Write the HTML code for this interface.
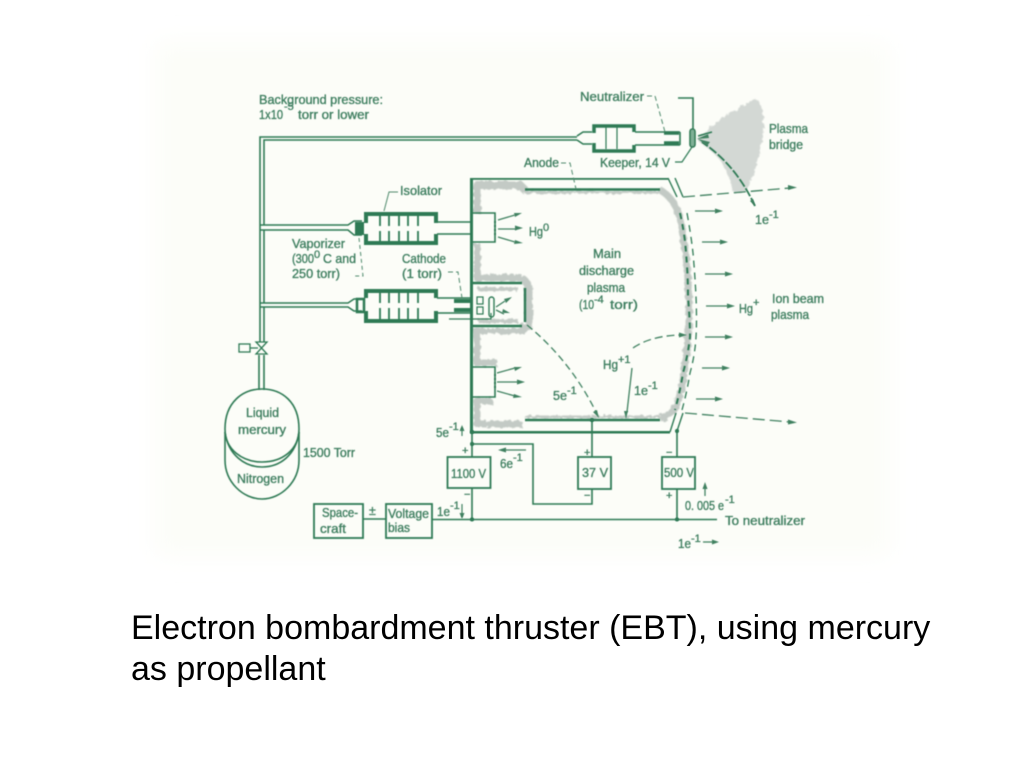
<!DOCTYPE html>
<html><head><meta charset="utf-8"><style>
html,body{margin:0;padding:0;background:#fff;width:1024px;height:768px;overflow:hidden}
svg{position:absolute;left:0;top:0}
.c{position:absolute;left:131px;font:34px/41px "Liberation Sans",sans-serif;color:#000;white-space:nowrap}
text{font-family:"Liberation Sans",sans-serif;font-size:12.5px;fill:#3f7f60;stroke:#3f7f60;stroke-width:.35}
.s{font-size:11px}
</style></head><body>
<svg width="1024" height="768" viewBox="0 0 1024 768">
<defs>
<filter id="b" x="-5%" y="-5%" width="110%" height="110%"><feGaussianBlur stdDeviation="0.4"/></filter>
<filter id="g" x="-10%" y="-10%" width="120%" height="120%">
<feTurbulence type="fractalNoise" baseFrequency="0.25" numOctaves="2" seed="4" result="n"/>
<feDisplacementMap in="SourceGraphic" in2="n" scale="5" result="d"/>
<feGaussianBlur in="d" stdDeviation="0.7"/>
</filter>
<filter id="bg" x="-10%" y="-10%" width="120%" height="120%"><feGaussianBlur stdDeviation="12"/></filter>
</defs>
<rect x="155" y="42" width="735" height="514" fill="#fcfdf8" filter="url(#bg)"/>
<!-- gray plasma -->
<g fill="none" stroke="#c3cac5" stroke-width="8" filter="url(#g)" stroke-linejoin="round">
<path d="M526 191L520 185H477V213"/>
<path d="M477 243V278H522" stroke-width="7"/>
<path d="M522 279Q529 282 529 295V322Q529 328 520 328" stroke-width="8"/>
<path d="M478 289H518M478 321H518" stroke-width="4"/>
<path d="M472 331H524" stroke-width="6"/>
<path d="M477 332V363H497" stroke-width="7"/>
<path d="M492 401H477V424H522" stroke-width="7"/>
<path d="M525 417H660M525 192H660" stroke-width="3"/>
<path d="M660 190Q674 198 679 215Q688 255 689 303Q689 360 678 403Q672 416 660 418" stroke-width="7"/>
</g>
<path d="M698 138C705 134 715 122 727 115C738 108 750 101 757 99C764 108 765 125 762 140C760 160 752 178 747 190Q740 195 733 192C730 178 725 168 720 160C714 153 708 148 698 141Z" fill="#d3d8d4" filter="url(#g)"/>
<g filter="url(#b)" fill="none" stroke="#2f7a55" stroke-width="1.6">
<!-- main feed tubes -->
<path d="M260 342V137H577"/>
<path d="M264 342V307M264 303V230M264 225V140H577M260 230H348L354 235H362M260 225H348L354 221H362M260 303H348L354 299H362M260 307H348L354 311H362"/>
<path d="M577 136L583 132H592M577 140L583 144H592"/>
<rect x="355" y="222" width="9" height="13" fill="#2f7a55" stroke="none"/>
<rect x="357" y="299" width="7" height="13" fill="none" stroke-width="2.5"/>
<!-- isolators -->
<path d="M366 223V214H436V223M366 234V243H436V234" stroke-width="4"/>
<path d="M366 298V291H436V298M366 311V321H436V311" stroke-width="4"/>
<path d="M380 216V226M389 216V226M399 216V226M408 216V226M418 216V226M380 231V242M389 231V242M399 231V242M408 231V242M418 231V242M380 293V303M389 293V303M399 293V303M408 293V303M418 293V303M380 308V319M389 308V319M399 308V319M408 308V319M418 308V319" stroke-width="1.8"/>
<path d="M437 222H471M437 234H471M437 298H471M437 313H471"/>
<!-- neutralizer -->
<path d="M594 133V126H634V132M594 143V151H634V145" stroke-width="3.5"/>
<path d="M606 127V149M617 127V149" stroke-width="1.2"/>
<path d="M635 132H680M635 145H680M680 132V145"/>
<path d="M664 133H679M664 143H679" stroke-width="3.500"/>
<rect x="690" y="129" width="5" height="18" rx="2.500" stroke-width="1.600" fill="#7fb096"/>
<path d="M678 98H693V129"/>
<path d="M675 162H682L692 147" stroke-width="1.200"/>
<!-- chamber -->
<rect x="470" y="178" width="3" height="255" fill="#2f7a55" stroke="none"/>
<rect x="470" y="431" width="200" height="2.500" fill="#2f7a55" stroke="none"/>
<rect x="470" y="178" width="198" height="1.800" fill="#2f7a55" stroke="none"/>
<path d="M525 189.500H660M525 420H660" stroke-width="2.400"/>
<path d="M668 178L677 197M675 178L683 197M670 432L676 413M677 431L683 413" stroke-width="1.400"/>
<path d="M473 213H495V242H473M473 367H495V397H473"/>
<path d="M472 283H522M472 326H522" stroke-width="2.600"/>
<path d="M525 288V322" stroke-width="2.400"/>
<path d="M495 221V236M495 374V390" stroke-width="2" stroke-dasharray="2 2"/>
<!-- grid -->
<path d="M680 213Q685 235 686 253Q688 275 688 297Q690 320 690 337Q688 355 683 373Q680 392 675 410" stroke-width="2" stroke-dasharray="6 5"/>
<path d="M687 213Q691 235 693 253Q695 275 696 297Q697 320 696 337Q695 355 690 373Q687 392 682 410" stroke-width="1.300" stroke-dasharray="7 5"/>
<!-- cathode -->
<path d="M454 301H472M454 310H472" stroke-width="4"/>
<rect x="477" y="297" width="6" height="7" stroke-width="1.200"/><rect x="477" y="307" width="6" height="7" stroke-width="1.200"/>
<rect x="489" y="297" width="5" height="20" rx="2.500" stroke-width="1.400"/>
<path d="M449 319H491V313" stroke-width="1.200"/>
<!-- leaders -->
<g stroke-width="1" stroke="#4f8a6d">
<path d="M384 211L389 192H398"/>
<path d="M359 238L363 276H353" stroke-dasharray="4 3"/>
<path d="M448 272H458L462 298" stroke-dasharray="5 3"/>
<path d="M647 96H655L665 132" stroke-dasharray="5 3"/>
<path d="M561 163H570L576 189" stroke-dasharray="5 3"/>
</g>
<!-- tank -->
<path d="M256 342H267L256 354H267Z" stroke-width="1.300"/>
<rect x="239" y="344" width="11" height="8" stroke-width="1.300"/><path d="M250 348H258" stroke-width="1.300"/>
<path d="M259 355V390M264 355V390"/>
<path d="M225 429C225 402 243 389 262 389C282 389 299 402 299 429C299 450 282 462 262 462C243 462 225 450 225 429Z"/>
<path d="M225 432C228 455 245 467 262 467C280 467 296 455 299 432"/>
<path d="M225 432V460C225 482 243 499 262 499C281 499 299 482 299 460V432"/>
<!-- circuit -->
<rect x="447.500" y="457" width="43" height="31" stroke-width="1.800"/>
<rect x="578" y="457" width="33" height="32" stroke-width="1.800"/>
<rect x="662" y="457" width="33" height="32" stroke-width="1.800"/>
<rect x="314" y="504" width="49" height="34" stroke-width="1.800"/>
<rect x="386" y="504" width="46" height="34" stroke-width="1.800"/>
<path d="M363 519H386M432 519.500H717M472 432V457M472 488V519M592 420V457M592 489V504H533V444H472M677 431V457M677 489V519"/>
</g>
<g filter="url(#b)" fill="#2f7a55" stroke="none">
<circle cx="472" cy="444" r="2"/><circle cx="472" cy="519.500" r="2"/><circle cx="677" cy="519.500" r="2"/><circle cx="677" cy="431" r="2"/><circle cx="592" cy="420" r="2"/><circle cx="472" cy="432" r="2"/>
</g>
<!-- arrows -->
<g filter="url(#b)" fill="none" stroke="#3f8160" stroke-width="1.300">
<path d="M695 211H716M702 242H721M705 274H726M706 306H728M705 337H726M702 368H723M696 399H716M498 229H516M497 382H518M497 373L515 368M497 391L515 396M498 220L515 215M498 237L515 242M496 307L505 301M496 310L504 314"/>
<path d="M683 197L790 188" stroke-dasharray="12 5"/>
<path d="M685 413L790 422" stroke-dasharray="12 5"/>
<path d="M633 348Q650 336 680 335" stroke-dasharray="8 4"/>
<path d="M632 368L627 412"/>
<path d="M527 325Q570 360 596 412" stroke-dasharray="7 4"/>
<path d="M755 206Q736 165 702 142" stroke="#2f7a55" stroke-width="1.800" stroke-dasharray="9 2"/>
<path d="M698 136L712 132" stroke="#2f7a55" stroke-width="1.500"/>
<path d="M526 450H505M703 542H713M705 496V487"/>
<path d="M462 428V436M462 504V517" stroke-width="1.200"/>
</g>
<g filter="url(#b)" fill="#3f8160" stroke="none">
<path d="M723 211l-8-2.500v5zM728 242l-8-2.500v5zM733 274l-8-2.500v5zM735 306l-8-2.500v5zM733 337l-8-2.500v5zM730 368l-8-2.500v5zM723 399l-8-2.500v5z"/>
<path d="M523 228l-8-2.500v5zM525 382l-8-2.500v5zM522 213l-8 0 1 4zM523 243l-8-3-1 4zM522 367l-8 0 1 4zM522 397l-8-3-1 4zM512 297l-8 2 2 4zM510 313l-7-4-1 4z"/>
<path d="M797 187.500l-9-2.500 0 5zM797 422.500l-9-3 0 5zM687 335l-8-2.500 0 5zM626 419l-2-8 4 0zM599 418l-6-6 4-2z"/>
<path d="M697 139l11-5 1 4zM698 139l12 3-3 4zM498 450l8-2.500v5zM719 542l-7-2.500v5zM705 482l-2.500 7h5zM462 425l-2.500 6h5zM462 519l-2.500-6h5zM755 206l-5-5 3-2z"/>
</g>
<!-- labels -->
<g filter="url(#b)">
<text x="259" y="104" textLength="124" lengthAdjust="spacingAndGlyphs">Background pressure:</text>
<text x="259" y="119" textLength="24" lengthAdjust="spacingAndGlyphs">1x10</text>
<text x="284" y="110" class="s">-5</text>
<text x="298" y="119" textLength="71" lengthAdjust="spacingAndGlyphs">torr or lower</text>
<text x="580" y="101" textLength="64" lengthAdjust="spacingAndGlyphs">Neutralizer</text>
<text x="600" y="167" textLength="70" lengthAdjust="spacingAndGlyphs">Keeper, 14 V</text>
<text x="524" y="167" textLength="35" lengthAdjust="spacingAndGlyphs">Anode</text>
<text x="400" y="195" textLength="42" lengthAdjust="spacingAndGlyphs">Isolator</text>
<text x="292" y="248" textLength="53" lengthAdjust="spacingAndGlyphs">Vaporizer</text>
<text x="292" y="263" textLength="22" lengthAdjust="spacingAndGlyphs">(300</text>
<text x="314" y="258" class="s">0</text>
<text x="323" y="263" textLength="33" lengthAdjust="spacingAndGlyphs">C and</text>
<text x="292" y="278" textLength="48" lengthAdjust="spacingAndGlyphs">250 torr)</text>
<text x="402" y="263" textLength="44" lengthAdjust="spacingAndGlyphs">Cathode</text>
<text x="402" y="278" textLength="40" lengthAdjust="spacingAndGlyphs">(1 torr)</text>
<text x="529" y="236" textLength="14" lengthAdjust="spacingAndGlyphs">Hg</text>
<text x="543" y="231" class="s">0</text>
<text x="593" y="258" textLength="28" lengthAdjust="spacingAndGlyphs">Main</text>
<text x="579" y="275" textLength="55" lengthAdjust="spacingAndGlyphs">discharge</text>
<text x="587" y="292" textLength="38" lengthAdjust="spacingAndGlyphs">plasma</text>
<text x="579" y="309" textLength="15" lengthAdjust="spacingAndGlyphs">(10</text>
<text x="594" y="303" class="s">-4</text>
<text x="610" y="309" textLength="28" lengthAdjust="spacingAndGlyphs">torr)</text>
<text x="769" y="133" textLength="39" lengthAdjust="spacingAndGlyphs">Plasma</text>
<text x="769" y="149" textLength="34" lengthAdjust="spacingAndGlyphs">bridge</text>
<text x="755" y="224" textLength="14" lengthAdjust="spacingAndGlyphs">1e</text>
<text x="769" y="218" class="s">-1</text>
<text x="739" y="313" textLength="14" lengthAdjust="spacingAndGlyphs">Hg</text>
<text x="753" y="306" class="s">+</text>
<text x="772" y="303" textLength="52" lengthAdjust="spacingAndGlyphs">Ion beam</text>
<text x="771" y="319" textLength="38" lengthAdjust="spacingAndGlyphs">plasma</text>
<text x="603" y="369" textLength="15" lengthAdjust="spacingAndGlyphs">Hg</text>
<text x="618" y="363" class="s">+1</text>
<text x="634" y="395" textLength="14" lengthAdjust="spacingAndGlyphs">1e</text>
<text x="648" y="389" class="s">-1</text>
<text x="553" y="400" textLength="14" lengthAdjust="spacingAndGlyphs">5e</text>
<text x="567" y="394" class="s">-1</text>
<text x="436" y="437" textLength="13" lengthAdjust="spacingAndGlyphs">5e</text>
<text x="449" y="430" class="s">-1</text>
<text x="500" y="468" textLength="13" lengthAdjust="spacingAndGlyphs">6e</text>
<text x="513" y="461" class="s">-1</text>
<text x="451" y="478" textLength="35" lengthAdjust="spacingAndGlyphs">1100 V</text>
<text x="582" y="477" textLength="26" lengthAdjust="spacingAndGlyphs">37 V</text>
<text x="664" y="477" textLength="30" lengthAdjust="spacingAndGlyphs">500 V</text>
<text x="322" y="517" textLength="36" lengthAdjust="spacingAndGlyphs">Space-</text>
<text x="320" y="533" textLength="26" lengthAdjust="spacingAndGlyphs">craft</text>
<text x="388" y="518" textLength="41" lengthAdjust="spacingAndGlyphs">Voltage</text>
<text x="388" y="532" textLength="22" lengthAdjust="spacingAndGlyphs">bias</text>
<text x="369" y="515">±</text>
<text x="437" y="516" textLength="13" lengthAdjust="spacingAndGlyphs">1e</text>
<text x="450" y="509" class="s">-1</text>
<text x="303" y="457" textLength="52" lengthAdjust="spacingAndGlyphs">1500 Torr</text>
<text x="246" y="417" textLength="33" lengthAdjust="spacingAndGlyphs">Liquid</text>
<text x="238" y="434" textLength="48" lengthAdjust="spacingAndGlyphs">mercury</text>
<text x="237" y="483" textLength="47" lengthAdjust="spacingAndGlyphs">Nitrogen</text>
<text x="685" y="510" textLength="39" lengthAdjust="spacingAndGlyphs">0. 005 e</text>
<text x="725" y="503" class="s">-1</text>
<text x="725" y="525" textLength="80" lengthAdjust="spacingAndGlyphs">To neutralizer</text>
<text x="678" y="548" textLength="13" lengthAdjust="spacingAndGlyphs">1e</text>
<text x="691" y="542" class="s">-1</text>
<text x="462" y="454" class="s">+</text><text x="464" y="498" class="s">−</text>
<text x="584" y="456" class="s">+</text><text x="584" y="499" class="s">−</text>
<text x="666" y="456" class="s">−</text><text x="666" y="499" class="s">+</text>
</g>
</svg>
<div class="c" style="top:608px">Electron bombardment thruster (EBT), using mercury</div>
<div class="c" style="top:649px">as propellant</div>
</body></html>
